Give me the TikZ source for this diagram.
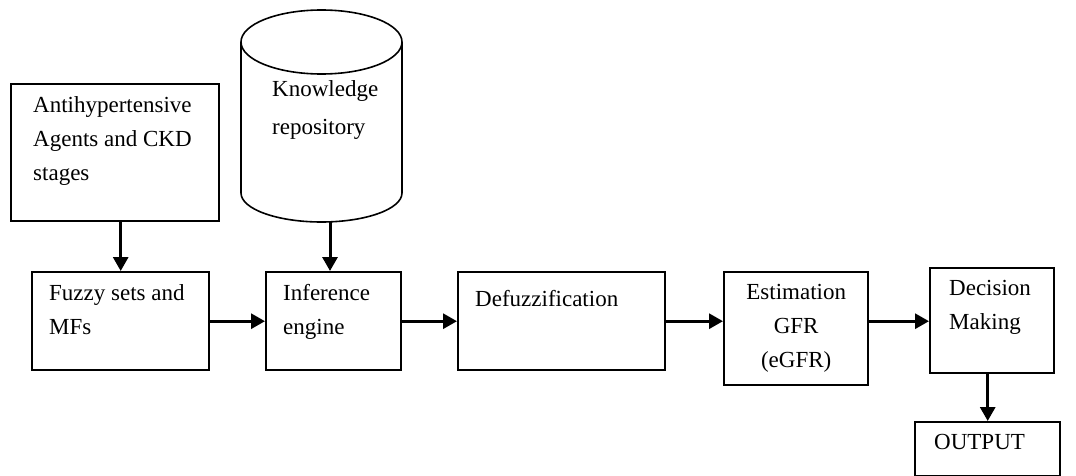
\documentclass[tikz,border=0pt]{standalone}
\usepackage{fontspec}
\setmainfont{Liberation Serif}
\usetikzlibrary{arrows.meta,positioning}

% box text: width, height, lines
\newcommand{\blocktext}[3]{\parbox[t][#2pt][t]{#1pt}{\raggedright #3}}

\begin{document}
\begin{tikzpicture}[x=1pt,y=-1pt,
  font=\fontsize{23}{34}\selectfont,
  block/.style={draw, line width=2.4pt, anchor=north west, inner xsep=17pt, inner ysep=12pt},
  flow/.style={-{Triangle[length=14pt,width=15pt]}, line width=3pt}]
  \useasboundingbox (0,0) rectangle (1076,476);

  % knowledge repository (cylinder)
  \draw[line width=1.6pt] (241,42) -- (241,193)
    .. controls (241,209) and (277,222) .. (321.5,222)
    .. controls (366,222) and (402,209) .. (402,193) -- (402,42);
  \draw[line width=1.6pt] (321.5,42) ellipse [x radius=80.5pt, y radius=32pt];
  \node[anchor=north west, inner sep=0pt, align=left] (kb) at (272,80) {Knowledge\\[4pt]repository};
  \coordinate (kbbase) at (330,222);

  % blocks
  \node[block, inner xsep=22pt] (agents) at (10,83) {\blocktext{164}{113}{Antihypertensive\\Agents and CKD\\stages}};
  \node[block] (fuzzy) at (31,271) {\blocktext{143}{74}{Fuzzy sets and\\MFs}};
  \node[block] (infer) at (265,271) {\blocktext{101}{74}{Inference\\engine}};
  \node[block, inner ysep=18pt] (defuzz) at (457,271) {\blocktext{173}{62}{Defuzzification}};
  \node[block] (estim) at (723,271) {\blocktext{110}{89}{\centering Estimation\\GFR\\(eGFR)}};
  \node[block, inner xsep=19pt] (decide) at (929,267) {\blocktext{86}{81}{Decision\\Making}};
  \node[block, inner xsep=19pt] (output) at (914,421) {\blocktext{107}{30}{OUTPUT}};

  % vertical arrows
  \draw[flow] (fuzzy.north |- agents.south) -- (fuzzy.north);
  \draw[flow] (kbbase) -- (kbbase |- infer.north);
  \draw[flow] (output.north |- decide.south) -- (output.north);

  % main chain
  \foreach \a/\b in {fuzzy/infer, infer/defuzz, defuzz/estim, estim/decide}
    \draw[flow] (\a.east |- fuzzy.east) -- (\b.west |- fuzzy.east);
\end{tikzpicture}
\end{document}
